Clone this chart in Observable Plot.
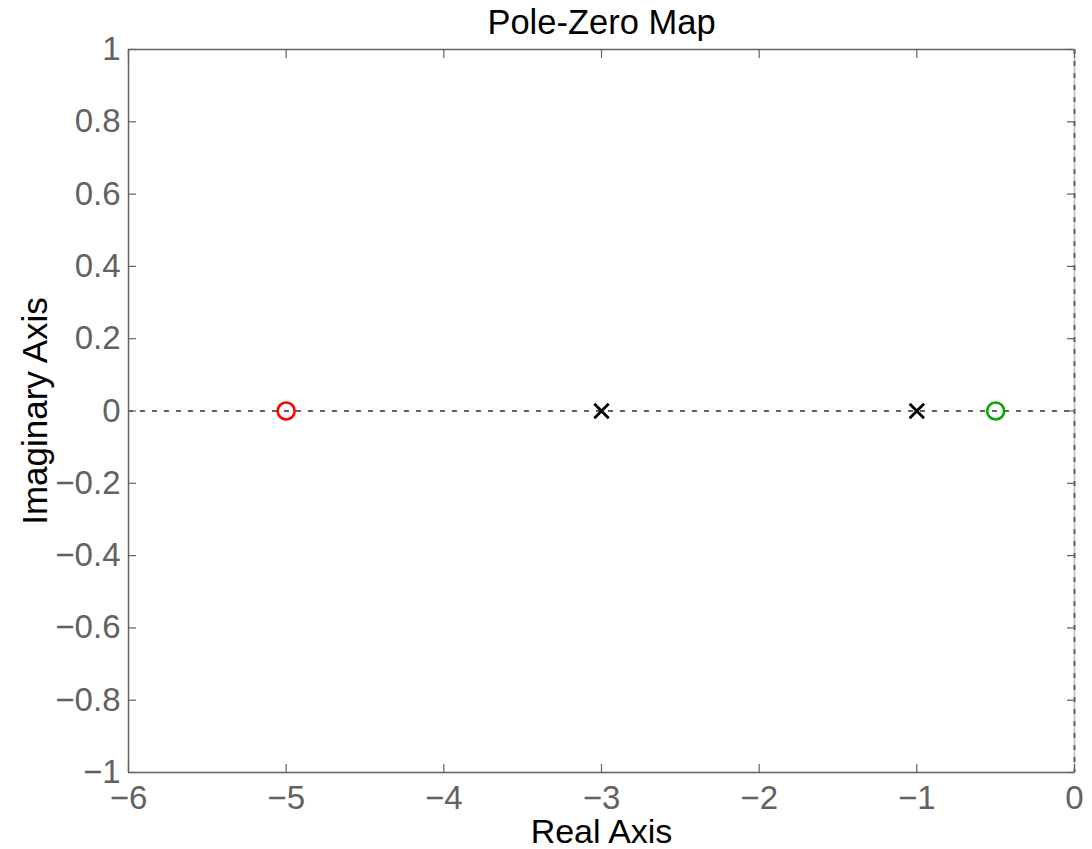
<!DOCTYPE html>
<html>
<head>
<meta charset="utf-8">
<script src="https://cdn.jsdelivr.net/npm/d3@7"></script>
<script src="https://cdn.jsdelivr.net/npm/@observablehq/plot@0.6"></script>
<style>
  html, body { margin: 0; padding: 0; background: #fff; }
</style>
</head>
<body>
<div id="chart"></div>
<script>
const titleText = "Pole-Zero Map";
const xLabel = "Real Axis";
const yLabel = "Imaginary Axis";
const xTicks = [-6, -5, -4, -3, -2, -1, 0];
const yTicks = [-1, -0.8, -0.6, -0.4, -0.2, 0, 0.2, 0.4, 0.6, 0.8, 1];
const poleRe = [-3, -1];
const poleIm = [0, 0];
const zeroRe = [-5, -0.5];
const zeroIm = [0, 0];
const zeroColors = ["#ff0000", "#00aa00"];

const poles = poleRe.map((re, i) => ({re, im: poleIm[i]}));
const zeros = zeroRe.map((re, i) => ({re, im: zeroIm[i], color: zeroColors[i]}));

const fmt = d => String(+d.toFixed(1)).replace("-", "\u2212");
const gray = "#626262";
const font = "'Liberation Sans', Helvetica, Arial, sans-serif";

const chart = Plot.plot({
  width: 1092,
  height: 849,
  marginLeft: 128,
  marginRight: 18,
  marginTop: 49,
  marginBottom: 77,
  style: {fontFamily: font, fontSize: "33px", background: "#fff"},
  x: {domain: [-6, 0], axis: null, label: null},
  y: {domain: [-1, 1], axis: null, label: null},
  marks: [
    // box edges
    Plot.ruleY([1], {stroke: gray, strokeWidth: 1.5}),
    Plot.ruleY([-1], {stroke: gray, strokeWidth: 1.5}),
    Plot.ruleX([-6], {stroke: gray, strokeWidth: 1.5}),
    Plot.ruleX([0], {stroke: "#bbb", strokeWidth: 1.5}),
    // axes with inward ticks
    Plot.axisX({anchor: "bottom", label: null, ticks: xTicks, tickSize: -8, tickPadding: 21, tickFormat: fmt, stroke: gray, fill: gray, strokeWidth: 1.2}),
    Plot.axisX({anchor: "top", label: null, ticks: xTicks, tickSize: -8, tickFormat: () => "", stroke: gray, strokeWidth: 1.2}),
    Plot.axisY({anchor: "left", label: null, ticks: yTicks, tickSize: -8, tickPadding: 16, tickFormat: fmt, stroke: gray, fill: gray, strokeWidth: 1.2}),
    Plot.axisY({anchor: "right", label: null, ticks: yTicks, tickSize: -8, tickFormat: () => "", stroke: gray, strokeWidth: 1.2}),
    // dotted axes lines through origin
    Plot.ruleY([0], {stroke: gray, strokeWidth: 2, strokeDasharray: "5,7"}),
    Plot.ruleX([0], {stroke: gray, strokeWidth: 2, strokeDasharray: "5,7"}),
    // zeros
    Plot.dot(zeros, {x: "re", y: "im", r: 8.5, stroke: "color", strokeWidth: 2.6, fill: "none"}),
    // poles
    Plot.dot(poles, {x: "re", y: "im", r: 6.6, symbol: "times", stroke: "black", strokeWidth: 2.8}),
    // titles
    Plot.text([titleText], {frameAnchor: "top", dy: -27, fontSize: 34.5, fill: "black", lineAnchor: "middle", textAnchor: "middle"}),
    Plot.text([xLabel], {frameAnchor: "bottom", dy: 60, fontSize: 34, fill: "black", lineAnchor: "middle", textAnchor: "middle"}),
    Plot.text([yLabel], {frameAnchor: "left", dx: -93, rotate: -90, fontSize: 35, fill: "black", lineAnchor: "middle", textAnchor: "middle"})
  ]
});
document.getElementById("chart").appendChild(chart);
</script>
</body>
</html>
